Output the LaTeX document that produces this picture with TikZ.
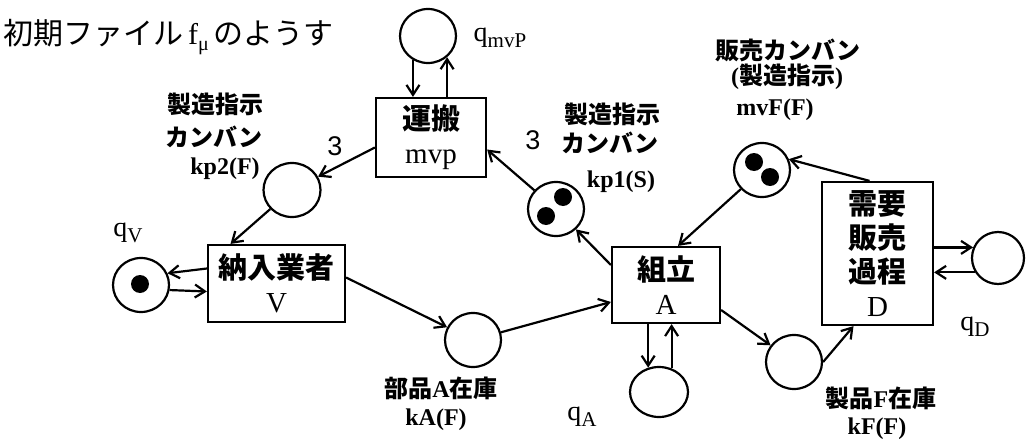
\documentclass[tikz,border=0pt]{standalone}
\usepackage{fontspec}
\setmainfont{Liberation Serif}
\newfontfamily\jp{Noto Sans CJK JP}
\newfontfamily\lsans{Liberation Sans}
\usetikzlibrary{arrows.meta,shapes.geometric}
\newcommand\J[1]{{\jp #1}}
\newcommand\JB[1]{{\jp\bfseries #1}}
\newcommand\qsub[1]{q\raisebox{-6pt}{\fontsize{21}{21}\selectfont #1}}
\tikzset{
 place/.style={ellipse,draw,line width=2.2pt,minimum width=56pt,minimum height=54pt,inner sep=0pt},
 trans/.style={rectangle,draw,line width=2.2pt,inner sep=0pt,align=center,font=\fontsize{29}{34}\selectfont},
 arr/.style={line width=2.2pt,-{Straight Barb[length=10pt,width=13pt]}},
 lbl/.style={inner sep=0pt,font=\fontsize{24}{24}\selectfont},
 tok/.style={circle,fill,minimum size=18pt,inner sep=0pt},
 ql/.style={inner sep=0pt,font=\fontsize{28}{28}\selectfont},
 wt/.style={inner sep=0pt,font=\lsans\fontsize{27}{27}\selectfont},
}
\begin{document}
\begin{tikzpicture}[x=1pt,y=-1pt]
\useasboundingbox (0,0) rectangle (1028,444);

% title
\node[anchor=west,inner sep=0pt,font=\fontsize{30}{30}\selectfont] (title) at (3,37)
  {\J{初期ファイル}\,f\raisebox{-6pt}{\fontsize{20}{20}\selectfont μ}\,\J{のようす}};

% places
\node[place] (qmvP) at (428,36) {};
\node[place,minimum width=57pt] (kp2) at (292,190) {};
\node[place] (qV) at (141,285) {};
\node[place] (kA) at (473,340) {};
\node[place] (kp1) at (556,209) {};
\node[place] (mvF) at (762,170) {};
\node[place] (kF) at (794,362) {};
\node[place,minimum width=58pt,minimum height=50pt] (qA) at (659,392) {};
\node[place,minimum width=52pt,minimum height=52pt] (qD) at (998,258) {};

% tokens
\node[tok] (tV) at (140,284) {};
\node[tok] (tp1a) at (563,197) {};
\node[tok] (tp1b) at (546,216) {};
\node[tok] (tF1) at (754,162) {};
\node[tok] (tF2) at (770,177) {};

% transitions
\node[trans,minimum width=110pt,minimum height=79pt] (mvp) at (431,137.5) {\JB{運搬}\\mvp};
\node[trans,minimum width=137pt,minimum height=77pt] (V) at (276.5,283.5) {\JB{納入業者}\\V};
\node[trans,minimum width=108pt,minimum height=76pt] (A) at (666,285) {\JB{組立}\\A};
\node[trans,minimum width=111pt,minimum height=143pt] (D) at (877.5,253.5) {\JB{需要}\\\JB{販売}\\\JB{過程}\\D};

% arcs
\draw[arr] (qmvP.238) -- (qmvP.238 |- mvp.north);
\draw[arr] (qmvP.312 |- mvp.north) -- (qmvP.312);
\draw[arr] ([yshift=-10pt]mvp.west) -- (kp2);
\draw[arr] (kp2) -- ([xshift=-46pt]V.north);
\draw[arr] ([yshift=15pt]V.west) -- (qV.24);
\draw[arr] (qV.-10) -- ([yshift=-8pt]V.west);
\draw[arr] ([yshift=6pt]V.east) -- (kA);
\draw[arr] (kA) -- ([yshift=-17pt]A.west);
\draw[arr] ([yshift=20pt]A.west) -- (kp1);
\draw[arr] (kp1) -- ([yshift=-12pt]mvp.east);
\draw[arr] (mvF) -- ([xshift=12pt]A.north);
\draw[arr] ([xshift=-8pt]D.north) -- (mvF.22);
\draw[arr] ([yshift=-25pt]A.east) -- (kF);
\draw[arr] (kF.east) -- ([xshift=-24pt]D.south);
\draw[arr] (qA.114 |- A.south) -- (qA.114);
\draw[arr] (qA.62) -- (qA.62 |- A.south);
\draw[arr] (D.east |- qD.157) -- (qD.157);
\draw[arr] (qD.212) -- (D.east |- qD.212);

% weights
\node[wt] (w1) at (335,146) {3};
\node[wt] (w2) at (533,140) {3};

% labels
\node[lbl] (l1a) at (215,104) {\JB{製造指示}};
\node[lbl] (l1b) at (214,137) {\JB{カンバン}};
\node[lbl] (l1c) at (225,169) {\textbf{kp2(F)}};
\node[lbl] (l2a) at (612,114) {\JB{製造指示}};
\node[lbl] (l2b) at (610,143) {\JB{カンバン}};
\node[lbl] (l2c) at (621,182) {\textbf{kp1(S)}};
\node[lbl] (l3a) at (788,50) {\JB{販売カンバン}};
\node[lbl] (l3b) at (787,77) {\textbf{(}\JB{製造指示}\textbf{)}};
\node[lbl] (l3c) at (775,110) {\textbf{mvF(F)}};
\node[lbl] (l4a) at (441,388) {\JB{部品}\textbf{A}\JB{在庫}};
\node[lbl] (l4b) at (436,420) {\textbf{kA(F)}};
\node[lbl] (l5a) at (881,398) {\JB{製品}\textbf{F}\JB{在庫}};
\node[lbl] (l5b) at (877,429) {\textbf{kF(F)}};

\node[ql] (qlmvP) at (500,38) {\qsub{mvP}};
\node[ql] (qlV) at (128,233) {\qsub{V}};
\node[ql] (qlA) at (582,417) {\qsub{A}};
\node[ql] (qlD) at (975,327) {\qsub{D}};
\end{tikzpicture}
\end{document}
